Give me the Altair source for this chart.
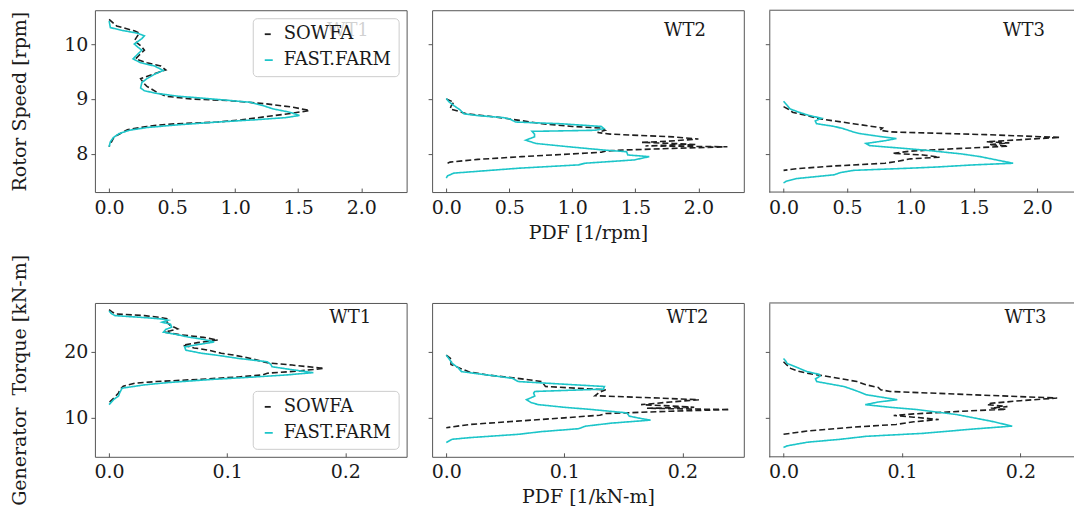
import altair as alt
import pandas as pd

# ---------------- data ----------------
SERIES = ["SOWFA", "FAST.FARM"]

# Rotor speed, WT1
rs1_sowfa_rpm = [10.45, 10.33, 10.24, 10.2, 10.13, 10.06, 9.97, 9.89, 9.8, 9.73, 9.66, 9.6, 9.53, 9.45, 9.37, 9.3, 9.23, 9.12, 9.05, 9.0, 8.97, 8.91, 8.85, 8.79, 8.74, 8.68, 8.62, 8.58, 8.54, 8.5, 8.44, 8.37, 8.31, 8.19, 8.13]
rs1_sowfa_pdf = [0.0, 0.06, 0.20, 0.24, 0.22, 0.20, 0.25, 0.28, 0.24, 0.21, 0.30, 0.41, 0.45, 0.35, 0.25, 0.27, 0.30, 0.38, 0.45, 0.65, 0.95, 1.25, 1.46, 1.59, 1.45, 1.25, 1.05, 0.86, 0.46, 0.30, 0.145, 0.09, 0.04, 0.013, 0.0]
rs1_ff_rpm = [10.42, 10.30, 10.25, 10.2, 10.15, 10.1, 10.0, 9.94, 9.89, 9.8, 9.73, 9.66, 9.6, 9.52, 9.45, 9.37, 9.3, 9.2, 9.15, 9.1, 9.05, 9.0, 8.94, 8.88, 8.82, 8.76, 8.70, 8.66, 8.62, 8.58, 8.53, 8.48, 8.43, 8.37, 8.3, 8.22, 8.13]
rs1_ff_pdf = [0.0, 0.01, 0.10, 0.22, 0.28, 0.26, 0.20, 0.23, 0.26, 0.22, 0.19, 0.25, 0.36, 0.43, 0.36, 0.30, 0.26, 0.25, 0.28, 0.38, 0.55, 0.82, 1.12, 1.22, 1.30, 1.43, 1.51, 1.40, 1.15, 0.86, 0.55, 0.30, 0.16, 0.08, 0.035, 0.01, 0.0]

# Rotor speed, WT2
rs2_sowfa_rpm = [9.0, 8.94, 8.88, 8.82, 8.76, 8.73, 8.67, 8.61, 8.55, 8.50, 8.47, 8.43, 8.39, 8.36, 8.31, 8.27, 8.23, 8.21, 8.19, 8.17, 8.155, 8.145, 8.13, 8.10, 8.07, 8.05, 8.03, 8.0, 7.95, 7.90, 7.85, 7.82]
rs2_sowfa_pdf = [0.0, 0.06, 0.04, 0.03, 0.12, 0.16, 0.40, 0.58, 0.76, 1.0, 1.23, 1.26, 1.20, 1.30, 1.80, 2.0, 1.75, 1.55, 1.80, 1.98, 1.70, 1.58, 2.23, 1.80, 1.40, 1.26, 1.23, 1.0, 0.60, 0.25, 0.03, 0.0]
rs2_ff_rpm = [9.01, 8.95, 8.88, 8.8, 8.73, 8.70, 8.66, 8.64, 8.58, 8.55, 8.50, 8.46, 8.43, 8.41, 8.36, 8.31, 8.25, 8.19, 8.13, 8.07, 8.04, 7.98, 7.95, 7.89, 7.83, 7.80, 7.74, 7.65, 7.60, 7.56]
rs2_ff_pdf = [0.0, 0.02, 0.06, 0.11, 0.14, 0.24, 0.45, 0.50, 0.55, 0.9, 1.23, 1.25, 1.18, 0.68, 0.70, 0.70, 0.63, 0.71, 0.97, 1.25, 1.43, 1.44, 1.61, 1.49, 1.10, 1.05, 0.58, 0.06, 0.01, 0.0]

# Rotor speed, WT3
rs3_sowfa_rpm = [8.86, 8.80, 8.76, 8.70, 8.64, 8.55, 8.49, 8.47, 8.43, 8.40, 8.35, 8.30, 8.27, 8.22, 8.20, 8.17, 8.14, 8.10, 8.05, 8.01, 7.98, 7.94, 7.91, 7.86, 7.83, 7.78, 7.73, 7.70]
rs3_sowfa_pdf = [0.0, 0.05, 0.07, 0.18, 0.28, 0.55, 0.73, 0.78, 0.76, 0.85, 1.60, 2.18, 1.95, 1.60, 1.78, 1.62, 1.77, 1.40, 1.0, 0.86, 1.10, 1.23, 1.00, 0.89, 0.80, 0.40, 0.10, 0.0]
rs3_ff_rpm = [8.96, 8.88, 8.82, 8.76, 8.70, 8.65, 8.60, 8.55, 8.50, 8.46, 8.40, 8.37, 8.32, 8.28, 8.24, 8.19, 8.15, 8.10, 8.06, 8.00, 7.95, 7.88, 7.83, 7.80, 7.76, 7.74, 7.70, 7.66, 7.62, 7.55, 7.50, 7.47]
rs3_ff_pdf = [0.0, 0.03, 0.05, 0.12, 0.20, 0.30, 0.25, 0.26, 0.40, 0.47, 0.55, 0.60, 0.75, 0.89, 0.80, 0.65, 0.68, 0.95, 1.15, 1.40, 1.55, 1.70, 1.81, 1.50, 1.20, 1.0, 0.55, 0.45, 0.40, 0.10, 0.02, 0.0]

# Generator torque, WT1
gt1_sowfa_tq = [26.4, 26.0, 25.75, 25.5, 25.26, 25.0, 24.5, 24.0, 23.5, 23.2, 23.0, 22.6, 22.2, 21.8, 21.4, 21.0, 20.6, 20.26, 19.8, 19.5, 19.0, 18.35, 18.0, 17.5, 17.1, 16.76, 16.5, 16.2, 15.85, 15.5, 15.25, 14.8, 14.25, 13.76, 13.0, 12.3]
gt1_sowfa_pdf = [0.0, 0.003, 0.006, 0.03, 0.042, 0.05, 0.049, 0.052, 0.058, 0.052, 0.047, 0.06, 0.08, 0.092, 0.075, 0.0625, 0.072, 0.084, 0.095, 0.106, 0.12, 0.134, 0.155, 0.182, 0.16, 0.134, 0.13, 0.11, 0.078, 0.04, 0.022, 0.012, 0.009, 0.008, 0.004, 0.0]
gt1_ff_tq = [26.2, 25.8, 25.5, 25.2, 25.0, 24.8, 24.5, 24.2, 23.75, 23.4, 23.0, 22.6, 22.25, 21.9, 21.5, 21.1, 20.76, 20.26, 19.8, 19.5, 19.0, 18.5, 18.1, 17.75, 17.3, 16.85, 16.5, 16.16, 15.8, 15.35, 15.0, 14.5, 13.8, 13.3, 12.8, 12.0]
gt1_ff_pdf = [0.0, 0.002, 0.005, 0.03, 0.044, 0.05, 0.045, 0.052, 0.053, 0.048, 0.046, 0.058, 0.067, 0.08, 0.089, 0.075, 0.064, 0.065, 0.078, 0.091, 0.11, 0.134, 0.137, 0.138, 0.155, 0.173, 0.15, 0.12, 0.085, 0.05, 0.03, 0.011, 0.009, 0.008, 0.004, 0.0]

# Generator torque, WT2
gt2_sowfa_tq = [19.5, 19.1, 18.75, 18.4, 18.1, 17.5, 17.0, 16.5, 16.0, 15.5, 15.0, 14.75, 14.5, 14.25, 13.9, 13.35, 13.0, 12.75, 12.4, 12.0, 11.8, 11.6, 11.45, 11.25, 11.0, 10.65, 10.4, 10.0, 9.5, 9.0, 8.5]
gt2_sowfa_pdf = [0.0, 0.003, 0.005, 0.004, 0.004, 0.012, 0.019, 0.035, 0.06, 0.081, 0.083, 0.084, 0.11, 0.135, 0.13, 0.126, 0.18, 0.214, 0.19, 0.165, 0.19, 0.21, 0.17, 0.24, 0.19, 0.135, 0.13, 0.10, 0.06, 0.02, 0.0]
gt2_ff_tq = [19.5, 18.8, 18.25, 17.6, 17.0, 16.5, 16.0, 15.5, 15.2, 14.75, 14.35, 14.0, 13.75, 13.3, 12.75, 12.3, 12.0, 11.6, 11.25, 10.75, 10.25, 9.9, 9.65, 9.2, 8.74, 8.35, 7.9, 7.5, 7.0, 6.75, 6.25]
gt2_ff_pdf = [0.0, 0.003, 0.005, 0.01, 0.013, 0.035, 0.056, 0.061, 0.09, 0.134, 0.133, 0.075, 0.074, 0.075, 0.068, 0.072, 0.078, 0.10, 0.124, 0.153, 0.155, 0.165, 0.173, 0.14, 0.118, 0.112, 0.08, 0.061, 0.02, 0.005, 0.0]

# Generator torque, WT3
gt3_sowfa_tq = [18.5, 18.0, 17.5, 17.1, 16.75, 16.2, 15.5, 15.0, 14.6, 14.25, 14.0, 13.5, 13.0, 12.6, 12.2, 12.0, 11.7, 11.5, 11.3, 11.0, 10.6, 10.35, 10.1, 9.75, 9.4, 9.0, 8.6, 8.0, 7.5]
gt3_sowfa_pdf = [0.0, 0.003, 0.006, 0.012, 0.02, 0.04, 0.062, 0.07, 0.08, 0.082, 0.09, 0.16, 0.231, 0.20, 0.175, 0.172, 0.189, 0.175, 0.188, 0.15, 0.11, 0.093, 0.11, 0.131, 0.11, 0.095, 0.06, 0.02, 0.0]
gt3_ff_tq = [19.0, 18.6, 18.25, 17.6, 17.0, 16.6, 16.35, 15.9, 15.5, 14.75, 14.2, 13.5, 12.75, 12.4, 12.0, 11.6, 11.25, 10.5, 9.5, 8.75, 8.3, 7.65, 7.2, 6.75, 6.3, 5.75, 5.5]
gt3_ff_pdf = [0.0, 0.002, 0.003, 0.012, 0.02, 0.03, 0.031, 0.027, 0.028, 0.051, 0.06, 0.07, 0.096, 0.08, 0.069, 0.09, 0.113, 0.146, 0.175, 0.193, 0.16, 0.118, 0.07, 0.048, 0.02, 0.003, 0.0]

turbine_labels = ["WT1", "WT2", "WT3"]
rs_xticks = [0.0, 0.5, 1.0, 1.5, 2.0]
rs_yticks = [8, 9, 10]
gt_xticks = [0.0, 0.1, 0.2]
gt_yticks = [10, 20]

# ---------------- styling ----------------
FONT = "DejaVu Serif"
FS = 19
FS_SMALL = 18
TXT = "#1a1a1a"
FRAME = "#555555"
CYAN = "#1cc5c9"
BLACK = "#1f1f1f"


def make_df(s_val, s_pdf, f_val, f_pdf):
    rows = []
    for i, (v, p) in enumerate(zip(s_val, s_pdf)):
        rows.append({"series": "SOWFA", "val": v, "pdf": p, "idx": i})
    for i, (v, p) in enumerate(zip(f_val, f_pdf)):
        rows.append({"series": "FAST.FARM", "val": v, "pdf": p, "idx": i})
    return pd.DataFrame(rows)


def panel(df, label, label_pos, xdom, ydom, w, h, xticks, yticks,
          ylabels, ytitle, xtitle, legend_orient, open_right=False):
    if legend_orient:
        leg = alt.Legend(orient=legend_orient, offset=8, title=None)
    else:
        leg = None
    xaxis_kw = dict(values=xticks, format=".1f", offset=-4, tickSize=4,
                    labelPadding=6, domain=False, grid=False,
                    title=xtitle if xtitle else None, titlePadding=6)
    yaxis_kw = dict(values=yticks, format="d", tickSize=4, labelPadding=3,
                    domain=open_right, grid=False, labels=ylabels,
                    title=ytitle if ytitle else None, titlePadding=34)
    if open_right:
        yaxis_kw.update(domainColor=FRAME, domainWidth=1)
    x = alt.X("pdf:Q", scale=alt.Scale(domain=xdom, nice=False, zero=False),
              axis=alt.Axis(**xaxis_kw))
    y = alt.Y("val:Q", scale=alt.Scale(domain=ydom, nice=False, zero=False),
              axis=alt.Axis(**yaxis_kw))
    lines = alt.Chart(df).mark_line(strokeWidth=1.6).encode(
        x=x, y=y,
        color=alt.Color("series:N", scale=alt.Scale(domain=SERIES, range=[BLACK, CYAN]), legend=leg),
        strokeDash=alt.StrokeDash("series:N", scale=alt.Scale(domain=SERIES, range=[[6, 3], [1, 0]]), legend=leg),
        order="idx:Q",
    )
    ldf = pd.DataFrame({"pdf": [label_pos[0]], "val": [label_pos[1]], "label": [label]})
    text = alt.Chart(ldf).mark_text(align="right", baseline="middle", font=FONT,
                                    fontSize=FS_SMALL, color=TXT).encode(
        x=alt.X("pdf:Q"), y=alt.Y("val:Q"), text="label:N")
    layers = [lines, text]
    if open_right:
        # frame edges (top and bottom) of a panel whose right side is cut off by the page edge
        edges = pd.DataFrame({"val": [ydom[0], ydom[1]]})
        frame = alt.Chart(edges).mark_rule(color=FRAME, strokeWidth=1).encode(
            y=alt.Y("val:Q"), x=alt.value(0), x2=alt.value("width"))
        layers.append(frame)
        return alt.layer(*layers).properties(width=w, height=h, view=alt.ViewBackground(stroke=None))
    return alt.layer(*layers).properties(width=w, height=h)


rs_xdom = [-0.1125, 2.36]
rs_xdom3 = [-0.1125, 2.29]
rs_ydom = [7.305, 10.616]
gt_xdom = [-0.012, 0.252]
gt_xdom3 = [-0.012, 0.2452]
gt_ydom = [4.09, 27.42]
W, W3, H1, H2 = 312, 305, 182, 154
rs_lab = (2.06, 10.24)
gt_lab = (0.222, 25.2)

p11 = panel(make_df(rs1_sowfa_rpm, rs1_sowfa_pdf, rs1_ff_rpm, rs1_ff_pdf), turbine_labels[0], rs_lab,
            rs_xdom, rs_ydom, W, H1, rs_xticks, rs_yticks, True, "Rotor Speed [rpm]", None, "top-right")
p12 = panel(make_df(rs2_sowfa_rpm, rs2_sowfa_pdf, rs2_ff_rpm, rs2_ff_pdf), turbine_labels[1], rs_lab,
            rs_xdom, rs_ydom, W, H1, rs_xticks, rs_yticks, False, None, "PDF [1/rpm]", None)
p13 = panel(make_df(rs3_sowfa_rpm, rs3_sowfa_pdf, rs3_ff_rpm, rs3_ff_pdf), turbine_labels[2], rs_lab,
            rs_xdom3, rs_ydom, W3, H1, rs_xticks, rs_yticks, False, None, None, None, open_right=True)
p21 = panel(make_df(gt1_sowfa_tq, gt1_sowfa_pdf, gt1_ff_tq, gt1_ff_pdf), turbine_labels[0], gt_lab,
            gt_xdom, gt_ydom, W, H2, gt_xticks, gt_yticks, True, "Generator\u00a0 Torque [kN-m]", None,
            "bottom-right")
p22 = panel(make_df(gt2_sowfa_tq, gt2_sowfa_pdf, gt2_ff_tq, gt2_ff_pdf), turbine_labels[1], gt_lab,
            gt_xdom, gt_ydom, W, H2, gt_xticks, gt_yticks, False, None, "PDF [1/kN-m]", None)
p23 = panel(make_df(gt3_sowfa_tq, gt3_sowfa_pdf, gt3_ff_tq, gt3_ff_pdf), turbine_labels[2], gt_lab,
            gt_xdom3, gt_ydom, W3, H2, gt_xticks, gt_yticks, False, None, None, None, open_right=True)

chart = alt.concat(
    p11, p12, p13, p21, p22, p23, columns=3,
    spacing={"row": 111, "column": 25.5}, bounds="flush"
).resolve_scale(
    color="independent", strokeDash="independent"
).resolve_legend(
    color="independent", strokeDash="independent"
).properties(
    padding={"left": 10, "top": 9, "right": 0, "bottom": 0},
    background="white",
).configure_view(stroke=FRAME, strokeWidth=1).configure_axis(
    labelFont=FONT, labelFontSize=FS, labelColor=TXT, titleFont=FONT, titleFontSize=FS,
    titleFontWeight="normal", titleColor=TXT, tickColor=FRAME, tickWidth=1
).configure_legend(
    labelFont=FONT, labelFontSize=FS_SMALL, labelColor=TXT, fillColor="rgba(255,255,255,0.8)",
    strokeColor="#cccccc", cornerRadius=4, padding=7, symbolType="stroke", symbolSize=64,
    symbolStrokeWidth=1.8, rowPadding=8, labelOffset=6
)

chart.save("out.html", embed_options={"renderer": "svg", "actions": False})
